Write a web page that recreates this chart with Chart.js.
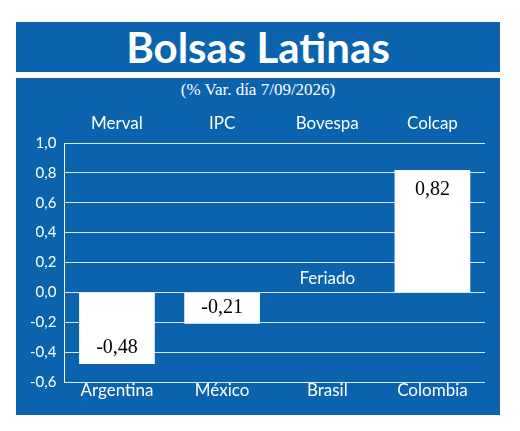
<!DOCTYPE html><html><head><meta charset="utf-8"><script src="https://cdn.jsdelivr.net/npm/chart.js"></script>
<style>body{margin:0;background:#fff;font-family:Lato,"Open Sans",sans-serif}
#t{position:absolute;left:16px;top:22px;width:484px;height:50px;background:#0b63ad;color:#fff;font-weight:bold;font-size:42px;text-align:center;line-height:50px}
#p{position:absolute;left:16px;top:78px;width:484px;height:337px;background:#0b63ad}
#s{position:absolute;left:16px;top:80px;width:484px;text-align:center;color:#fff;font-family:"Liberation Serif",serif;font-size:17px}
#c{position:absolute;left:16px;top:100px}</style></head><body>
<div id="t">Bolsas Latinas</div><div id="p"></div><div id="s">(% Var. día 7/09/2026)</div>
<canvas id="c" width="484" height="310"></canvas>
<script>
const indices=["Merval","IPC","Bovespa","Colcap"];
const countries=["Argentina","México","Brasil","Colombia"];
const values=[-0.48,-0.21,null,0.82];
const valueLabels=["-0,48","-0,21","Feriado","0,82"];
const yTicks=[1.0,0.8,0.6,0.4,0.2,0.0,-0.2,-0.4,-0.6];
const fmt=v=>v.toFixed(1).replace('.',',');
const lab={id:'lab',afterDatasetsDraw(ch){const c=ch.ctx,m=ch.getDatasetMeta(0),y=ch.scales.y;
c.save();c.textAlign='center';c.textBaseline='middle';const vf='20px "Liberation Serif",serif';c.font=vf;
values.forEach((v,i)=>{const x=m.data[i].x;
if(v===null){c.fillStyle='#fff';c.font='17px Lato';c.fillText(valueLabels[i],x,y.getPixelForValue(0.09));c.font=vf;}
else{c.fillStyle='#000';const p=v<0?y.getPixelForValue(v)-16:y.getPixelForValue(v)+20;c.fillText(valueLabels[i],x,p);}});
c.fillStyle='#fff';c.font='17px Lato';
indices.forEach((t,i)=>c.fillText(t,m.data[i].x,24));
countries.forEach((t,i)=>c.fillText(t,m.data[i].x,y.bottom+9));
c.restore();}};
new Chart(document.getElementById('c'),{type:'bar',data:{labels:countries,datasets:[{data:values,backgroundColor:'#fff',barPercentage:0.72,categoryPercentage:1}]},
options:{responsive:false,animation:false,layout:{padding:{top:43,right:15,bottom:20,left:6}},plugins:{legend:{display:false},tooltip:{enabled:false}},
scales:{x:{grid:{display:false},border:{display:false},ticks:{display:false}},
y:{min:-0.6,max:1.0,afterBuildTicks:a=>{a.ticks=yTicks.map(v=>({value:v}))},ticks:{color:'#fff',font:{size:15,family:'Lato'},callback:v=>fmt(v),padding:8},
grid:{color:'rgba(255,255,255,0.85)',lineWidth:1,drawTicks:false},border:{color:'#fff'}}}},plugins:[lab]});
</script></body></html>
